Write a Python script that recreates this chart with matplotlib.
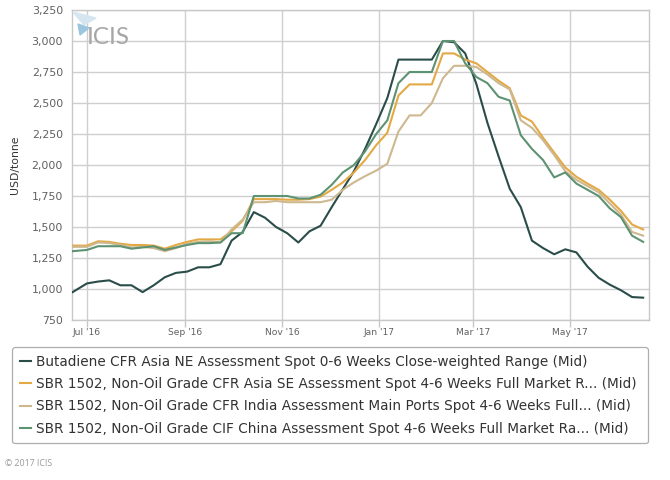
import matplotlib
matplotlib.use("Agg")
import matplotlib.pyplot as plt
from matplotlib.patches import Polygon
import pandas as pd

plt.rcParams['font.family'] = ['DejaVu Sans']

# ---- data ----
dates = [pd.Timestamp("2016-06-22")] + list(pd.date_range("2016-07-01", "2017-06-16", freq="7D"))

butadiene = [975, 1045, 1060, 1070, 1030, 1030, 975, 1030, 1095, 1130, 1140, 1175, 1175,
             1200, 1390, 1460, 1620, 1575, 1500, 1450, 1375, 1465, 1510, 1660, 1805, 1950,
             2130, 2330, 2540, 2850, 2850, 2850, 2850, 3000, 2990, 2900, 2655, 2340, 2070,
             1810, 1660, 1390, 1330, 1280, 1320, 1295, 1180, 1090, 1035, 990, 935, 930]

sbr_se = [1350, 1350, 1385, 1380, 1365, 1355, 1355, 1350, 1325, 1355, 1380, 1400, 1400,
          1400, 1465, 1550, 1725, 1725, 1725, 1720, 1720, 1725, 1745, 1800, 1860, 1940,
          2040, 2160, 2260, 2560, 2650, 2650, 2650, 2900, 2900, 2850, 2820, 2750, 2680,
          2620, 2400, 2350, 2220, 2100, 1980, 1905, 1850, 1800, 1720, 1630, 1520, 1480]

sbr_india = [1340, 1340, 1375, 1370, 1355, 1335, 1340, 1330, 1305, 1330, 1365, 1380, 1385,
             1375, 1480, 1560, 1700, 1700, 1710, 1700, 1700, 1700, 1700, 1720, 1800, 1860,
             1910, 1955, 2010, 2270, 2400, 2400, 2500, 2700, 2800, 2800, 2790, 2730, 2660,
             2610, 2360, 2300, 2200, 2080, 1950, 1880, 1830, 1780, 1690, 1600, 1460, 1430]

sbr_china = [1305, 1315, 1345, 1345, 1345, 1325, 1335, 1345, 1315, 1335, 1355, 1370, 1370,
             1375, 1450, 1450, 1750, 1750, 1750, 1750, 1730, 1730, 1760, 1840, 1940, 2000,
             2110, 2250, 2360, 2660, 2750, 2750, 2750, 3000, 3000, 2820, 2710, 2660, 2550,
             2520, 2240, 2130, 2040, 1900, 1940, 1850, 1800, 1750, 1650, 1580, 1430, 1380]

labels = [
    "Butadiene CFR Asia NE Assessment Spot 0-6 Weeks Close-weighted Range (Mid)",
    "SBR 1502, Non-Oil Grade CFR Asia SE Assessment Spot 4-6 Weeks Full Market R... (Mid)",
    "SBR 1502, Non-Oil Grade CFR India Assessment Main Ports Spot 4-6 Weeks Full... (Mid)",
    "SBR 1502, Non-Oil Grade CIF China Assessment Spot 4-6 Weeks Full Market Ra... (Mid)",
]
colors = ["#2b4d4a", "#e3a945", "#cdb88f", "#5d9272"]

y_ticks = [750, 1000, 1250, 1500, 1750, 2000, 2250, 2500, 2750, 3000, 3250]
x_ticks = ["2016-07-01", "2016-09-01", "2016-11-01", "2017-01-01", "2017-03-01", "2017-05-01"]
x_ticklabels = ["Jul '16", "Sep '16", "Nov '16", "Jan '17", "Mar '17", "May '17"]

# ---- figure ----
W, H = 670, 480
fig = plt.figure(figsize=(W / 100, H / 100), dpi=100)
ax = fig.add_axes([72 / W, 1 - 320 / H, (649 - 72) / W, (320 - 10) / H])

series = [butadiene, sbr_se, sbr_india, sbr_china]
order = [2, 1, 3, 0]
lines = [None] * 4
for i in order:
    lines[i], = ax.plot(dates, series[i], color=colors[i], lw=1.5, zorder=3 + i * 0.1)

ax.set_ylim(750, 3250)
ax.set_xlim(pd.Timestamp("2016-06-21 14:00"), pd.Timestamp("2017-06-19 16:00"))
ax.set_yticks(y_ticks)
ax.set_yticklabels([f"{v:,}" for v in y_ticks])
ax.set_xticks([pd.Timestamp(d) for d in x_ticks])
ax.set_xticklabels(x_ticklabels)

ax.grid(True, color="#cfcfcf", lw=1.0, zorder=0)
for s in ax.spines.values():
    s.set_color("#c8c8c8")
    s.set_linewidth(1.0)
ax.tick_params(axis="y", length=0, pad=6.5, labelsize=7.9, labelcolor="#606060")
ax.tick_params(axis="x", length=5, width=1.0, color="#c8c8c8", pad=1.0, labelsize=6.6,
               labelcolor="#606060")
ax.set_ylabel("USD/tonne", fontsize=7.8, color="#333333")
ax.yaxis.set_label_coords(-0.090, 0.5)

# ICIS watermark
fig.text(87 / W, 1 - 38 / H, "ICIS", fontsize=17.5, color="#a6a6a6", va="center", ha="left",
         family="Lato", zorder=1)
tri1 = Polygon([[73 / W, 1 - 12 / H], [96 / W, 1 - 18 / H], [84 / W, 1 - 25 / H]],
               closed=True, transform=fig.transFigure, color="#d6e6f0", zorder=1)
tri2 = Polygon([[78 / W, 1 - 24 / H], [89 / W, 1 - 28 / H], [80 / W, 1 - 35 / H]],
               closed=True, transform=fig.transFigure, color="#9cc6e0", zorder=1)
fig.patches.extend([tri1, tri2])

# legend
leg = fig.legend(lines, labels, loc="upper left",
                 bbox_to_anchor=(12 / W, 1 - 444 / H, (648 - 12) / W, (444 - 347) / H),
                 mode="expand", ncol=1, fontsize=9.85, frameon=True, fancybox=True,
                 handlelength=0.85, handletextpad=0.35, labelspacing=0.62,
                 borderpad=0.55, borderaxespad=0)
leg.get_frame().set_edgecolor("#9a9a9a")
leg.get_frame().set_linewidth(0.9)
for t in leg.get_texts():
    t.set_color("#333333")

fig.text(5 / W, 1 - 463 / H, "\u00a9 2017 ICIS", fontsize=6.3, color="#999999",
         va="center", ha="left", family="Open Sans")

fig.savefig("out.png", dpi=100)
